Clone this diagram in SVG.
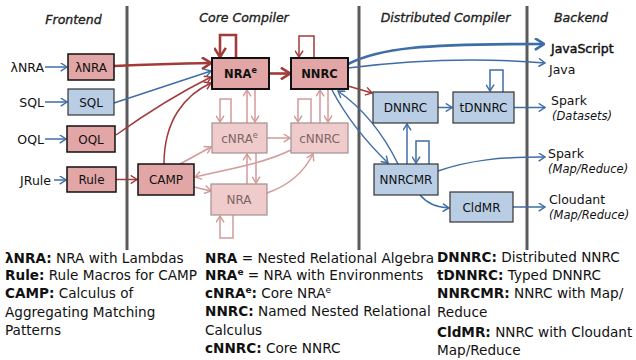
<svg xmlns="http://www.w3.org/2000/svg" width="636" height="360" viewBox="0 0 636 360">
<style>
.bg{fill:#fff}
.sep{stroke:#5a5a5a;stroke-width:3}
.hdr{font-family:"DejaVu Sans",sans-serif;font-style:italic;font-size:12.5px;fill:#222;stroke:#222;stroke-width:0.35;text-anchor:middle}
.red rect{fill:#e2a6a6;stroke:#111;stroke-width:1.5}
.redT rect{fill:#e2a6a6;stroke:#111;stroke-width:2}
.blue rect{fill:#b9cde5;stroke:#333;stroke-width:1.2}
.lite rect{fill:#f0cbcb;stroke:#a39090;stroke-width:1.2}
.bt{font-family:"DejaVu Sans",sans-serif;font-size:12px;fill:#111;text-anchor:middle}
.btb{font-family:"DejaVu Sans",sans-serif;font-size:11.5px;font-weight:bold;fill:#111;text-anchor:middle}
.lt{font-family:"DejaVu Sans",sans-serif;font-size:12px;fill:#7d6565;text-anchor:middle}
.lbl{font-family:"DejaVu Sans",sans-serif;font-size:12.5px;fill:#111}
.lbi{font-family:"DejaVu Sans",sans-serif;font-size:11.5px;font-style:italic;fill:#111}
.leg{font-family:"DejaVu Sans",sans-serif;font-size:13.6px;fill:#111}
.leg tspan.b{font-weight:bold}
.cr{fill:none;stroke:#a33a3a;stroke-width:1.5}
.crT{fill:none;stroke:#a33a3a;stroke-width:2.6}
.cb{fill:none;stroke:#3f6ea6;stroke-width:1.5}
.cbT{fill:none;stroke:#3f6ea6;stroke-width:2.6}
.cl{fill:none;stroke:#d49a9a;stroke-width:1.5}
</style>
<defs>
<marker id="ar" viewBox="0 0 10 10" refX="9" refY="5" markerWidth="9" markerHeight="9" markerUnits="userSpaceOnUse" orient="auto"><path d="M2,0.5 L9,5 L2,9.5" fill="none" stroke="#a33a3a" stroke-width="1.6"/></marker>
<marker id="arT" viewBox="0 0 10 10" refX="9" refY="5" markerWidth="13" markerHeight="13" markerUnits="userSpaceOnUse" orient="auto"><path d="M2,0.5 L9,5 L2,9.5" fill="none" stroke="#a33a3a" stroke-width="2"/></marker>
<marker id="ab" viewBox="0 0 10 10" refX="9" refY="5" markerWidth="9" markerHeight="9" markerUnits="userSpaceOnUse" orient="auto"><path d="M2,0.5 L9,5 L2,9.5" fill="none" stroke="#3f6ea6" stroke-width="1.6"/></marker>
<marker id="abT" viewBox="0 0 10 10" refX="9" refY="5" markerWidth="13" markerHeight="13" markerUnits="userSpaceOnUse" orient="auto"><path d="M2,0.5 L9,5 L2,9.5" fill="none" stroke="#3f6ea6" stroke-width="2"/></marker>
<marker id="al" viewBox="0 0 10 10" refX="9" refY="5" markerWidth="9" markerHeight="9" markerUnits="userSpaceOnUse" orient="auto"><path d="M2,0.5 L9,5 L2,9.5" fill="none" stroke="#d49a9a" stroke-width="1.6"/></marker>
</defs>
<rect class="bg" x="0" y="0" width="636" height="360"/>

<g id="separators">
<line class="sep" x1="127" y1="6" x2="127" y2="250"/>
<line class="sep" x1="359" y1="6" x2="359" y2="250"/>
<line class="sep" x1="527" y1="6" x2="527" y2="250"/>
</g>

<g id="headers">
<text class="hdr" x="73.5" y="23.5">Frontend</text>
<text class="hdr" x="244" y="22">Core Compiler</text>
<text class="hdr" x="445.5" y="22">Distributed Compiler</text>
<text class="hdr" x="581" y="22">Backend</text>
</g>

<g id="inputs">
<text class="lbl" x="44" y="71.5" text-anchor="end">λNRA</text>
<text class="lbl" x="44" y="106.5" text-anchor="end">SQL</text>
<text class="lbl" x="44" y="143.5" text-anchor="end">OQL</text>
<text class="lbl" x="51" y="184.5" text-anchor="end">JRule</text>
</g>

<g id="outputs">
<text class="lbl" x="551" y="52.5" font-size="13.5" stroke="#111" stroke-width="0.45">JavaScript</text>
<text class="lbl" x="549" y="73.5">Java</text>
<text class="lbl" x="551" y="104.5">Spark</text>
<text class="lbi" x="552" y="119.5">(Datasets)</text>
<text class="lbl" x="548" y="157.5">Spark</text>
<text class="lbi" x="548" y="172.5">(Map/Reduce)</text>
<text class="lbl" x="549" y="203.5">Cloudant</text>
<text class="lbi" x="549" y="218.5">(Map/Reduce)</text>
</g>

<g id="connectors">
<path class="cb" d="M45,67 H67" marker-end="url(#ab)"/>
<path class="cb" d="M45,102 H67" marker-end="url(#ab)"/>
<path class="cb" d="M45,139 H66" marker-end="url(#ab)"/>
<path class="cb" d="M54,180 H66" marker-end="url(#ab)"/>
<path class="crT" d="M114,66 Q160,64 211,63" marker-end="url(#arT)"/>
<path class="cb" d="M114,103 Q165,86 211,71" marker-end="url(#ab)"/>
<path class="cr" d="M116,135 Q165,100 211,77" marker-end="url(#ar)"/>
<path class="cr" d="M164,164 C164,120 185,95 211,83" marker-end="url(#ar)"/>
<path class="cr" d="M116,179.5 H137" marker-end="url(#ar)"/>
<path class="crT" d="M236,58 V35 H220 V57" marker-end="url(#arT)"/>
<path class="crT" d="M269,73.5 H290" marker-end="url(#arT)"/>
<path class="cr" d="M314,58 V36 H299 V57" stroke-width="2" marker-end="url(#ar)"/>
<path class="cl" d="M247,123 V90" marker-end="url(#al)"/>
<path class="cl" d="M255,89 V122" marker-end="url(#al)"/>
<path class="cl" d="M231,123 V99 H220 V122" marker-end="url(#al)"/>
<path class="cl" d="M320,123 V90" marker-end="url(#al)"/>
<path class="cl" d="M328,89 V122" marker-end="url(#al)"/>
<path class="cl" d="M311,123 V99 H298 V122" marker-end="url(#al)"/>
<path class="cl" d="M267,138 H290" marker-end="url(#al)"/>
<path class="cl" d="M247,184 V154" marker-end="url(#al)"/>
<path class="cl" d="M256,153 V183" marker-end="url(#al)"/>
<path class="cl" d="M233,215 V238 H220 V216" marker-end="url(#al)"/>
<path class="cl" d="M180,164 L211,147" marker-end="url(#al)"/>
<path class="cl" d="M194,187 L211,191" marker-end="url(#al)"/>
<path class="cl" d="M291,150 C260,165 222,170 195,177" marker-end="url(#al)"/>
<path class="cl" d="M267,193 C290,185 305,170 313,154" marker-end="url(#al)"/>
<path class="cbT" d="M348,64 C380,48 420,44 544,44" marker-end="url(#abT)"/>
<path class="cb" d="M348,68 Q450,55 545,63" marker-end="url(#ab)"/>
<path class="cr" d="M348,86 L372,93" marker-end="url(#ar)"/>
<path class="cb" d="M438,107.5 H452" marker-end="url(#ab)"/>
<path class="cb" d="M503,92 V70 H490 V91" marker-end="url(#ab)"/>
<path class="cb" d="M514,107.5 H545" marker-end="url(#ab)"/>
<path class="cb" d="M407,164 V124" marker-end="url(#ab)"/>
<path class="cb" d="M429,164 V141 H416 V163" marker-end="url(#ab)"/>
<path class="cb" d="M332,90 Q352,128 388,163" marker-end="url(#ab)"/>
<path class="cb" d="M398,164 Q375,117 338,91" marker-end="url(#ab)"/>
<path class="cb" d="M438,171 C470,160 500,157 545,157" marker-end="url(#ab)"/>
<path class="cb" d="M420,195 Q430,207 449,208" marker-end="url(#ab)"/>
<path class="cb" d="M513,207 H545" marker-end="url(#ab)"/>
</g>

<g id="n-lnra" class="red"><rect x="68" y="54" width="46" height="26"/><text class="bt" x="91" y="71.5">λNRA</text></g>
<g id="n-sql" class="blue"><rect x="68" y="89" width="46" height="26"/><text class="bt" x="91" y="106.5">SQL</text></g>
<g id="n-oql" class="red"><rect x="67" y="126" width="48" height="26"/><text class="bt" x="91" y="143.5">OQL</text></g>
<g id="n-rule" class="red"><rect x="67" y="167" width="49" height="25"/><text class="bt" x="91.5" y="184">Rule</text></g>
<g id="n-camp" class="red"><rect x="138" y="164" width="56" height="31"/><text class="bt" x="166" y="184">CAMP</text></g>
<g id="n-nrae" class="redT"><rect x="212" y="58" width="57" height="31"/><text class="btb" x="240.5" y="78">NRA<tspan font-size="8" dy="-5">e</tspan></text></g>
<g id="n-nnrc" class="redT"><rect x="291" y="58" width="57" height="31"/><text class="btb" x="319.5" y="78">NNRC</text></g>
<g id="n-cnrae" class="lite"><rect x="212" y="123" width="55" height="30"/><text class="lt" x="239.5" y="142.5">cNRA<tspan font-size="8" dy="-5">e</tspan></text></g>
<g id="n-cnnrc" class="lite"><rect x="291" y="123" width="57" height="30"/><text class="lt" x="319.5" y="142.5">cNNRC</text></g>
<g id="n-nra" class="lite"><rect x="211" y="184" width="56" height="31"/><text class="lt" x="239" y="204">NRA</text></g>
<g id="n-dnnrc" class="blue"><rect x="373" y="92" width="65" height="31"/><text class="bt" x="405.5" y="112">DNNRC</text></g>
<g id="n-tdnnrc" class="blue"><rect x="453" y="92" width="61" height="31"/><text class="bt" x="483.5" y="112">tDNNRC</text></g>
<g id="n-nnrcmr" class="blue"><rect x="374" y="164" width="64" height="31"/><text class="bt" x="406" y="184">NNRCMR</text></g>
<g id="n-cldmr" class="blue"><rect x="450" y="192" width="63" height="30"/><text class="bt" x="481.5" y="211.5">CldMR</text></g>

<g id="legend">
<text class="leg" x="5" y="263"><tspan class="b">λNRA:</tspan> NRA with Lambdas</text>
<text class="leg" x="5" y="280"><tspan class="b">Rule:</tspan> Rule Macros for CAMP</text>
<text class="leg" x="5" y="298"><tspan class="b">CAMP:</tspan> Calculus of</text>
<text class="leg" x="5" y="317">Aggregating Matching</text>
<text class="leg" x="5" y="335">Patterns</text>
<text class="leg" x="205" y="263"><tspan class="b">NRA</tspan> = Nested Relational Algebra</text>
<text class="leg" x="205" y="280"><tspan class="b">NRA</tspan><tspan class="b" font-size="9" dy="-5">e</tspan><tspan dy="5"> = NRA with Environments</tspan></text>
<text class="leg" x="205" y="298"><tspan class="b">cNRA</tspan><tspan class="b" font-size="9" dy="-5">e</tspan><tspan class="b" dy="5">:</tspan> Core NRA<tspan font-size="9" dy="-5">e</tspan></text>
<text class="leg" x="205" y="316"><tspan class="b">NNRC:</tspan> Named Nested Relational</text>
<text class="leg" x="205" y="335">Calculus</text>
<text class="leg" x="205" y="353"><tspan class="b">cNNRC:</tspan> Core NNRC</text>
<text class="leg" x="437" y="262"><tspan class="b">DNNRC:</tspan> Distributed NNRC</text>
<text class="leg" x="437" y="280"><tspan class="b">tDNNRC:</tspan> Typed DNNRC</text>
<text class="leg" x="437" y="298"><tspan class="b">NNRCMR:</tspan> NNRC with Map/</text>
<text class="leg" x="437" y="317">Reduce</text>
<text class="leg" x="437" y="337"><tspan class="b">CldMR:</tspan> NNRC with Cloudant</text>
<text class="leg" x="437" y="355">Map/Reduce</text>
</g>
</svg>
